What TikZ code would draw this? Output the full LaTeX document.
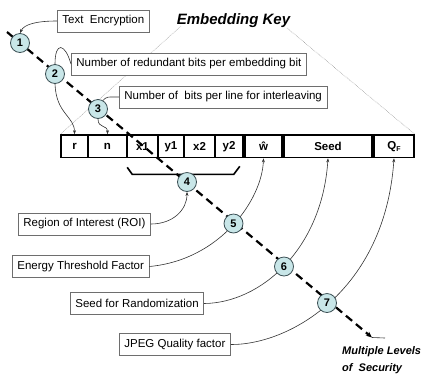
\documentclass[tikz,border=0pt]{standalone}
\usepackage{fontspec}
\setmainfont{Liberation Sans}
\usetikzlibrary{calc,arrows.meta}
\definecolor{circfill}{RGB}{200,230,232}
\definecolor{circline}{RGB}{60,80,85}
\definecolor{boxline}{RGB}{110,110,110}
\pgfdeclarelayer{front}
\pgfsetlayers{main,front}
\begin{document}
\begin{tikzpicture}[x=1pt,y=-1pt,
  lbl/.style={draw=boxline, line width=0.8pt, fill=white, font=\fontsize{11.5}{13}\selectfont, minimum height=22pt, inner xsep=5pt, inner ysep=0pt, anchor=west},
  cell/.style={draw=black, line width=1.6pt, fill=white, font=\bfseries\fontsize{11.5}{13}\selectfont, minimum height=22.5pt, inner sep=0pt},
  num/.style={circle, draw=circline, line width=0.8pt, fill=circfill, minimum size=19pt, inner sep=0pt, font=\bfseries\fontsize{11}{13}\selectfont},
  conn/.style={draw=black!80, line width=0.6pt},
  arr/.style={-{Stealth[length=4pt,width=3pt]}},
  dotline/.style={draw=gray, line width=0.5pt, densely dotted},
  dashline/.style={draw=black, line width=2.2pt, dash pattern=on 8pt off 5pt},
]
\useasboundingbox (0,0) rectangle (423,376);

% title and end label
\node[font=\bfseries\itshape\fontsize{15}{18}\selectfont, anchor=base, inner sep=0pt] (key) at (233.5,24) {Embedding Key};
\node[font=\bfseries\itshape\fontsize{11}{17}\selectfont, align=left, anchor=north west, inner sep=0pt] (mls) at (342,346) {Multiple Levels\\of~~Security};

\coordinate (k1) at (181,26);
\coordinate (k2) at (287,28);

% key row
\node[cell, minimum width=27pt] (r) at (74.5,146.25) {r};
\node[cell, minimum width=39pt] (n) at (107.5,146.25) {n};
\node[cell, minimum width=31pt] (x1) at (142.5,146.25) {x1};
\node[cell, minimum width=26pt] (y1) at (171,146.25) {y1};
\node[cell, minimum width=31pt] (x2) at (199.5,146.25) {x2};
\node[cell, minimum width=28pt] (y2) at (229,146.25) {y2};
\node[cell, minimum width=37pt] (w) at (263.5,146.25) {ŵ};
\node[cell, minimum width=88pt] (seed) at (328,146.25) {Seed};
\node[cell, minimum width=40pt] (qf) at (394,146.25) {Q\raisebox{-2.5pt}{\fontsize{7}{8}\selectfont F}};

% dotted projection lines
\draw[dotline] (k1) -- (r.north west);
\draw[dotline] (k2) -- (qf.north east);

% label boxes
\node[lbl] (te) at (57,21) {Text~~Encryption};
\node[lbl] (nr) at (71,64) {Number of redundant bits per embedding bit};
\node[lbl] (nb) at (119,97) {Number of~~bits per line for interleaving};
\node[lbl] (roi) at (18,224) {Region of Interest (ROI)};
\node[lbl] (etf) at (12,266.5) {Energy Threshold Factor};
\node[lbl] (sfr) at (70,303.5) {Seed for Randomization};
\node[lbl] (jpeg) at (119,344.5) {JPEG Quality factor};

% bracket under x1..y2
\draw[line width=1.6pt] ($(x1.south west)+(1,9)$) -- ($(x1.south west)+(6,16)$) -- ($(y2.south east)+(-10,16)$) -- ($(y2.south east)+(-4,8)$);

% numbered circles (on front layer)
\begin{pgfonlayer}{front}
\node[num] (c1) at (20,43) {1};
\node[num] (c2) at (55,74) {2};
\node[num] (c3) at (98,109) {3};
\node[num] (c4) at (187,182) {4};
\node[num] (c5) at (233.5,223.5) {5};
\node[num] (c6) at (284,266.5) {6};
\node[num] (c7) at (327,303) {7};
\end{pgfonlayer}

% dashed security path
\coordinate (ds) at (7,32);
\coordinate (de) at (372,337.5);
\coordinate (de2) at (385,338);
\draw[dashline, -{Stealth[length=6pt,width=5pt]}] (ds) -- (de);
\draw[conn] (de) -- (de2);

% connectors
\draw[conn, arr] (te.west) .. controls +(-20,0) and +(4,-9) .. (c1.north);
\draw[conn] (nr.west) .. controls +(-6,-21) and +(0,-23) .. (c2.north);
\draw[conn, arr] (c2.south) .. controls +(1,30) and +(0,-18) .. (r.north);
\draw[conn] (nb.west) .. controls +(-12,0) and +(4,-4) .. (c3.60);
\draw[conn, arr] (c3.south) .. controls +(0,10) and +(0,-10) .. (n.north);
\draw[conn, arr] (roi.east) .. controls +(22,0) and +(0,18) .. (c4.south);
\draw[conn, arr] (etf.east) .. controls (220,260) and (262,200) .. (w.south);
\draw[conn, arr] (sfr.east) .. controls (260,303) and (322,250) .. (seed.south);
\draw[conn, arr] (jpeg.east) .. controls (290,345) and (385,290) .. (qf.south);
\end{tikzpicture}
\end{document}
